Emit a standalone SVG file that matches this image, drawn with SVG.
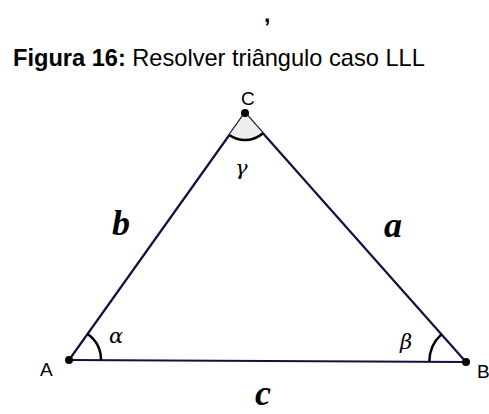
<svg xmlns="http://www.w3.org/2000/svg" width="489" height="414" viewBox="0 0 489 414">
<style>
.t{font-family:"Liberation Sans",Arial,sans-serif;fill:#000}
.side{stroke:#0f1240;stroke-width:2.2;fill:none}
.ang{stroke:#000;stroke-width:2.5;fill:none}
.pt{fill:#000}
.lbl{font-family:"Liberation Sans",Arial,sans-serif;font-size:19px;fill:#000}
.big{font-family:"Liberation Serif","Times New Roman",serif;font-weight:bold;font-style:italic;font-size:36px;fill:#000}
.gr{font-family:"DejaVu Serif","Liberation Serif",serif;font-style:italic;font-size:21px;fill:#000}
</style>
<rect width="489" height="414" fill="#fff"/>
<text class="t" x="264" y="22" font-size="23" font-weight="bold">,</text>
<text class="t" x="13" y="66" font-size="23.6"><tspan font-weight="bold">Figura 16:</tspan> Resolver triângulo caso LLL</text>
<g id="connectors">
<path class="side" d="M69,360 L466,362"/>
<path class="side" d="M69,360 L245,113"/>
<path class="side" d="M245,113 L466,362"/>
</g>
<g id="angleC">
<path d="M245,113 L229.3,135 A27,27 0 0 0 262.9,133.2 Z" fill="#eeeeee" stroke="none"/>
<path class="ang" d="M229.3,135 A27,27 0 0 0 262.9,133.2"/>
<text class="gr" x="235" y="175">γ</text>
</g>
<g id="angleA">
<path class="ang" d="M87.6,333.9 A32,32 0 0 1 101,360.2"/>
<text class="gr" x="109" y="343">α</text>
</g>
<g id="angleB">
<path class="ang" d="M429.3,361.8 A37,37 0 0 1 441.4,334.3"/>
<text class="gr" x="400" y="349">β</text>
</g>
<g id="A"><circle class="pt" cx="69" cy="360" r="4"/><text class="lbl" x="40" y="376">A</text></g>
<g id="B"><circle class="pt" cx="466" cy="362" r="4"/><text class="lbl" x="477" y="378">B</text></g>
<g id="C"><circle class="pt" cx="245" cy="113" r="4"/><text class="lbl" x="241" y="105" font-size="17">C</text></g>
<g id="labels">
<text class="big" x="112" y="235">b</text>
<text class="big" x="384" y="237">a</text>
<text class="big" x="255" y="405" font-size="33">c</text>
</g>
</svg>
